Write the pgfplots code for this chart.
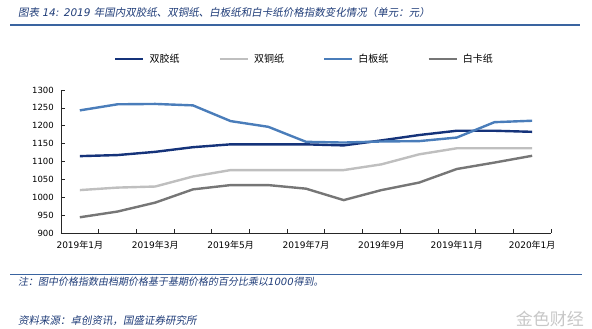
\documentclass[border=0pt]{standalone}
\usepackage{fontspec}
\usepackage{pgfplots}
\pgfplotsset{compat=1.18}
\setmainfont{DejaVu Sans}
\newfontfamily\cjk{Noto Sans CJK SC}
\newfontfamily\cjkit[FakeSlant=0.18]{Noto Sans CJK SC}
\newcommand\ym[2]{#1{\cjk 年}#2{\cjk 月}}
\definecolor{navy}{HTML}{15337A}
\definecolor{lgray}{HTML}{BFBFBF}
\definecolor{mblue}{HTML}{4A7DBA}
\definecolor{dgray}{HTML}{767676}
\definecolor{titleblue}{HTML}{1F3C78}
\definecolor{rule}{HTML}{3A64A0}
\begin{document}
\begin{tikzpicture}[x=1pt,y=1pt]
\useasboundingbox (0,0) rectangle (592,329);
\node[anchor=base west, inner sep=0pt, text=titleblue] at (18,312)
  {\fontsize{10.5}{12}\selectfont\itshape{\cjkit 图表} 14: 2019 {\cjkit 年国内双胶纸、双铜纸、白板纸和白卡纸价格指数变化情况（单元：元）}};
\draw[rule, line width=1.8pt] (10,304) -- (580,304);
\draw[rule, line width=1.3pt] (10,54.5) -- (582,54.5);
\node[anchor=base west, inner sep=0pt, text=titleblue] at (18,43)
  {\fontsize{10}{12}\selectfont\itshape{\cjkit 注：图中价格指数由档期价格基于基期价格的百分比乘以}1000{\cjkit 得到。}};
\node[anchor=base west, inner sep=0pt, text=titleblue] at (18,4)
  {\fontsize{10.5}{12}\selectfont{\cjkit 资料来源：卓创资讯，国盛证券研究所}};
\node[anchor=base east, inner sep=0pt, text=black!22] at (584,3)
  {\fontsize{17}{18}\selectfont\cjk 金色财经};
\begin{axis}[
  at={(61pt,96pt)}, anchor=south west,
  width=490pt, height=143pt, scale only axis,
  xmin=0, xmax=13, ymin=900, ymax=1300,
  ytick={900,950,...,1300},
  xtick={0,...,13}, xticklabels={},
  extra x ticks={0.5,2.5,4.5,6.5,8.5,10.5,12.5},
  extra x tick labels={\ym{2019}{1},\ym{2019}{3},\ym{2019}{5},\ym{2019}{7},\ym{2019}{9},\ym{2019}{11},\ym{2020}{1}},
  extra x tick style={major tick length=0pt},
  axis x line*=bottom, axis y line*=left,
  axis line style={black!85, line width=0.7pt},
  tick style={black!85, line width=0.7pt},
  tick align=inside, major tick length=4pt,
  ticklabel style={font=\fontsize{8.5}{10}\selectfont},
  xticklabel style={font=\fontsize{9}{10}\selectfont},
  /pgf/number format/assume math mode=true,
  /pgf/number format/1000 sep={},
  yticklabel style={inner xsep=0pt, xshift=-7pt},
  xticklabel style={inner ysep=0pt, yshift=-8pt},
  legend columns=4,
  legend style={at={(0.1082,1.2147)}, anchor=west, draw=none, fill=none,
    inner sep=0pt, font=\fontsize{10}{12}\selectfont\cjk,
    nodes={inner sep=0pt, anchor=west},
    /tikz/every odd column/.append style={column sep=5pt},
    /tikz/every even column/.append style={column sep=39pt}},
  legend image code/.code={\draw[#1] (0pt,0pt) -- (28pt,0pt);},
  every axis plot/.append style={line width=2.4pt, line join=round, no markers},
]
\addplot[navy] coordinates {(0.5,1115) (1.5,1118) (2.5,1127) (3.5,1140) (4.5,1148) (5.5,1148) (6.5,1148) (7.5,1145) (8.5,1159) (9.5,1174) (10.5,1186) (11.5,1186) (12.5,1183)};
\addlegendentry{双胶纸}
\addplot[lgray] coordinates {(0.5,1020) (1.5,1027) (2.5,1030) (3.5,1058) (4.5,1076) (5.5,1076) (6.5,1076) (7.5,1076) (8.5,1092) (9.5,1120) (10.5,1137) (11.5,1137) (12.5,1137)};
\addlegendentry{双铜纸}
\addplot[mblue] coordinates {(0.5,1243) (1.5,1260) (2.5,1261) (3.5,1257) (4.5,1213) (5.5,1197) (6.5,1155) (7.5,1153) (8.5,1156) (9.5,1157) (10.5,1167) (11.5,1210) (12.5,1214)};
\addlegendentry{白板纸}
\addplot[dgray] coordinates {(0.5,944) (1.5,960) (2.5,985) (3.5,1022) (4.5,1034) (5.5,1034) (6.5,1024) (7.5,992) (8.5,1020) (9.5,1041) (10.5,1079) (11.5,1097) (12.5,1116)};
\addlegendentry{白卡纸}
\end{axis}
\end{tikzpicture}
\end{document}
